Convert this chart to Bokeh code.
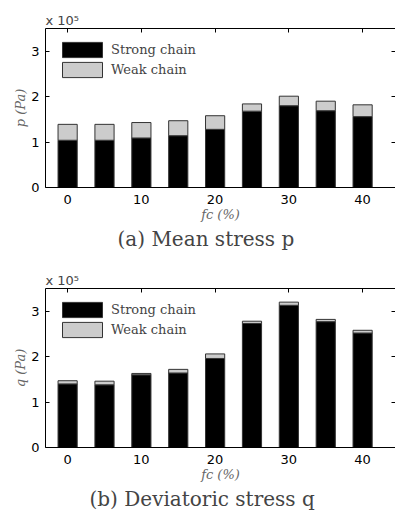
from bokeh.plotting import figure
from bokeh.layouts import column
from bokeh.models import (ColumnDataSource, LinearAxis, Title, Legend, LegendItem,
                          FixedTicker, CustomJSTickFormatter, Range1d)
from bokeh.embed import file_html
from bokeh.resources import INLINE

# ---- data ----
fc = [0, 5, 10, 15, 20, 25, 30, 35, 40]
x_ticks = [0, 10, 20, 30, 40]
y_ticks = [0, 100000, 200000, 300000]

strong_p = [104000, 104000, 109000, 114000, 128000, 168000, 180000, 169000, 156000]
weak_p = [35000, 35000, 34000, 33000, 30000, 16000, 21000, 21000, 26000]

strong_q = [140000, 138000, 160000, 164000, 196000, 273000, 313000, 277000, 252000]
weak_q = [7000, 8000, 3000, 8000, 10000, 5000, 7000, 5000, 6000]

series_names = ["Strong chain", "Weak chain"]
series_colors = ["#000000", "#cccccc"]

SANS = "DejaVu Sans"
SERIF = "DejaVu Serif"


def make_panel(strong, weak, ylab, caption, cap_offset, top_border):
    src = ColumnDataSource(dict(fc=fc, strong=strong, weak=weak))
    p = figure(frame_width=350, frame_height=159, output_backend="svg", toolbar_location=None,
               x_range=Range1d(-3, 44.46), y_range=Range1d(0, 350000),
               min_border_left=45, min_border_right=0, min_border_top=top_border,
               min_border_bottom=68, x_axis_location=None, y_axis_location=None)
    p.outline_line_color = None
    p.xgrid.visible = False
    p.ygrid.visible = False
    p.background_fill_color = "white"
    p.border_fill_color = "white"

    rs = p.vbar_stack(["strong", "weak"], x="fc", width=2.6, source=src,
                      fill_color=series_colors, line_color="#333333", line_width=1)

    xt = FixedTicker(ticks=x_ticks)
    yt = FixedTicker(ticks=y_ticks)
    yfmt = CustomJSTickFormatter(code="return (tick/100000).toFixed(0);")
    blank = CustomJSTickFormatter(code="return '';")

    def style(ax, labels=True, line=True):
        ax.major_tick_in = 4
        ax.major_tick_out = 0
        ax.minor_tick_in = 0
        ax.minor_tick_out = 0
        ax.major_tick_line_color = "black"
        ax.axis_line_color = "black" if line else None
        if labels:
            ax.major_label_text_font = SANS
            ax.major_label_text_font_size = "13px"
            ax.major_label_text_color = "black"
        else:
            ax.formatter = blank
            ax.major_label_text_font_size = "1px"
            ax.major_label_standoff = 0

    bottom = LinearAxis(ticker=xt, axis_label="fc (%)")
    style(bottom)
    bottom.major_label_standoff = 7
    bottom.axis_label_standoff = 0
    bottom.axis_label_text_font = SERIF
    bottom.axis_label_text_font_style = "italic"
    bottom.axis_label_text_font_size = "13px"
    bottom.axis_label_text_color = "#666666"
    p.add_layout(bottom, "below")

    left = LinearAxis(ticker=yt, formatter=yfmt, axis_label=ylab)
    style(left)
    left.major_label_standoff = 6
    left.axis_label_standoff = 0
    left.axis_label_text_font = SERIF
    left.axis_label_text_font_style = "italic"
    left.axis_label_text_font_size = "13px"
    left.axis_label_text_color = "#666666"
    p.add_layout(left, "left")

    top = LinearAxis(ticker=xt)
    style(top, labels=False)
    p.add_layout(top, "above")

    right = LinearAxis(ticker=yt)
    style(right, labels=False, line=False)
    p.add_layout(right, "right")

    p.title = Title(text="x 10\u2075", align="left", text_font=SANS,
                    text_font_size="13px", text_font_style="normal", standoff=1)

    cap = Title(text=caption, align="left", offset=cap_offset, text_font=SERIF,
                text_font_size="20px", text_font_style="normal", standoff=0)
    p.add_layout(cap, "below")

    legend = Legend(items=[LegendItem(label=series_names[0], renderers=[rs[0]]),
                           LegendItem(label=series_names[1], renderers=[rs[1]])],
                    location=(12, 108), orientation="vertical",
                    glyph_width=50, glyph_height=19, label_height=19, spacing=1,
                    padding=0, margin=0, label_standoff=4,
                    label_text_font=SERIF, label_text_font_size="13px",
                    border_line_color=None, background_fill_alpha=0)
    p.add_layout(legend, "center")
    return p


pa = make_panel(strong_p, weak_p, "p (Pa)", "(a) Mean stress p", 72, 28)
pb = make_panel(strong_q, weak_q, "q (Pa)", "(b) Deviatoric stress q", 44, 33)

layout = column(pa, pb, spacing=0)
open("out.html", "w").write(file_html(layout, INLINE))
